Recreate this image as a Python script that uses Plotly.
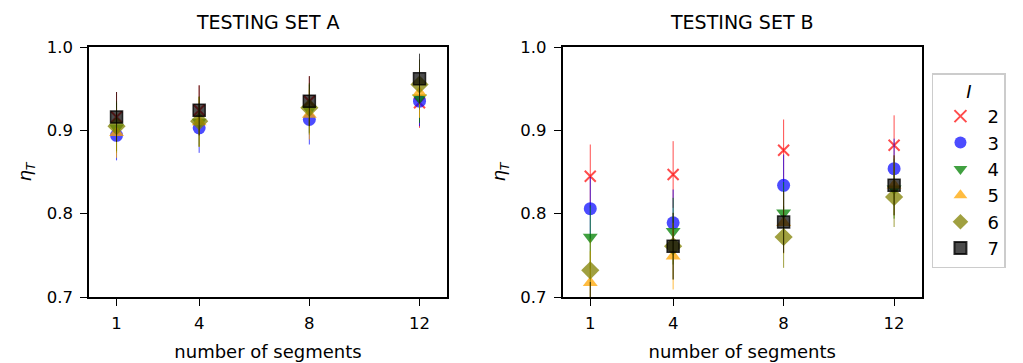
import plotly.graph_objects as go

segments = [1, 4, 8, 12]
tick_labels = ["1", "4", "8", "12"]
levels = ["2", "3", "4", "5", "6", "7"]

# TESTING SET A values per I
a_2 = [0.916, 0.924, 0.935, 0.933]
a_3 = [0.894, 0.903, 0.913, 0.935]
a_4 = [0.903, 0.910, 0.925, 0.939]
a_5 = [0.897, 0.910, 0.919, 0.945]
a_6 = [0.905, 0.911, 0.927, 0.955]
a_7 = [0.916, 0.924, 0.935, 0.962]
a_err = [0.030, 0.030, 0.030, 0.030]

# TESTING SET B values per I
b_2 = [0.845, 0.847, 0.876, 0.882]
b_3 = [0.806, 0.789, 0.834, 0.854]
b_4 = [0.772, 0.779, 0.801, 0.830]
b_5 = [0.717, 0.749, 0.789, 0.834]
b_6 = [0.732, 0.761, 0.772, 0.820]
b_7 = [0.680, 0.761, 0.790, 0.834]
b_err = [0.038, 0.040, 0.037, 0.036]

series_a = [a_2, a_3, a_4, a_5, a_6, a_7]
series_b = [b_2, b_3, b_4, b_5, b_6, b_7]

colors = ["rgba(255,0,0,0.7)", "rgba(0,0,255,0.7)", "rgba(0,128,0,0.75)",
          "rgba(255,165,0,0.75)", "rgba(128,128,0,0.75)", "rgba(0,0,0,0.7)"]
symbols = ["x-thin", "circle", "triangle-down", "triangle-up", "diamond", "square"]
sizes = [11, 13, 13, 13, 14, 12]

fig = go.Figure()
for panel, (data, err) in enumerate([(series_a, a_err), (series_b, b_err)]):
    xa = "x" if panel == 0 else "x2"
    ya = "y" if panel == 0 else "y2"
    for i, vals in enumerate(data):
        sym = symbols[i]
        mline = dict(width=2, color=colors[i]) if sym == "x-thin" else (
            dict(width=1.5, color="rgba(0,0,0,0.8)") if sym == "square" else dict(width=0))
        fig.add_trace(go.Scatter(
            x=segments, y=vals, mode="markers", xaxis=xa, yaxis=ya,
            name=levels[i], legendgroup=levels[i], showlegend=(panel == 1),
            marker=dict(symbol=sym, size=sizes[i], color=colors[i], line=mline),
            error_y=dict(type="data", array=err, visible=True, thickness=1,
                         width=0, color=colors[i]),
        ))

font = "DejaVu Sans, sans-serif"
axis_common = dict(showline=True, linecolor="black", linewidth=1.5, mirror=True,
                   ticks="outside", ticklen=7, tickwidth=1.3, tickcolor="black",
                   showgrid=False, zeroline=False, automargin=False,
                   tickfont=dict(size=16.5, color="black"))
xtitle = dict(text="number of segments", font=dict(size=18), standoff=14)
ytitle = dict(text="<i>η</i><sub><i>T</i></sub>", font=dict(size=18), standoff=10)
fig.update_layout(
    width=1023, height=363,
    margin=dict(l=0, r=0, t=47, b=66),
    paper_bgcolor="white", plot_bgcolor="white",
    font=dict(family=font, color="black"),
    xaxis=dict(domain=[0.087, 0.437], range=[0, 13], tickvals=segments,
               ticktext=tick_labels, ticklabelstandoff=3, title=xtitle, **axis_common),
    yaxis=dict(range=[0.7, 1.0], tickvals=[0.7, 0.8, 0.9, 1.0], tickformat=".1f",
               ticklabelstandoff=4, title=ytitle, **axis_common),
    xaxis2=dict(domain=[0.550, 0.901], range=[0, 13], tickvals=segments,
                ticktext=tick_labels, anchor="y2", ticklabelstandoff=3,
                title=xtitle, **axis_common),
    yaxis2=dict(range=[0.7, 1.0], tickvals=[0.7, 0.8, 0.9, 1.0], tickformat=".1f",
                anchor="x2", ticklabelstandoff=4, title=ytitle, **axis_common),
    legend=dict(x=0.911, y=0.896, xanchor="left", yanchor="top",
                bordercolor="#cccccc", borderwidth=1.5, bgcolor="white",
                font=dict(size=18), itemsizing="constant", itemwidth=44,
                tracegroupgap=0,
                title=dict(text="<i>I</i>", side="top center", font=dict(size=18))),
    annotations=[
        dict(text="TESTING SET A", x=0.262, y=1.0, xref="paper", yref="paper",
             xanchor="center", yanchor="bottom", yshift=12, showarrow=False,
             font=dict(size=19)),
        dict(text="TESTING SET B", x=0.7255, y=1.0, xref="paper", yref="paper",
             xanchor="center", yanchor="bottom", yshift=12, showarrow=False,
             font=dict(size=19)),
    ],
)

fig.write_html("out.html", config={"displayModeBar": False},
               post_script="document.body.style.margin='0';")
